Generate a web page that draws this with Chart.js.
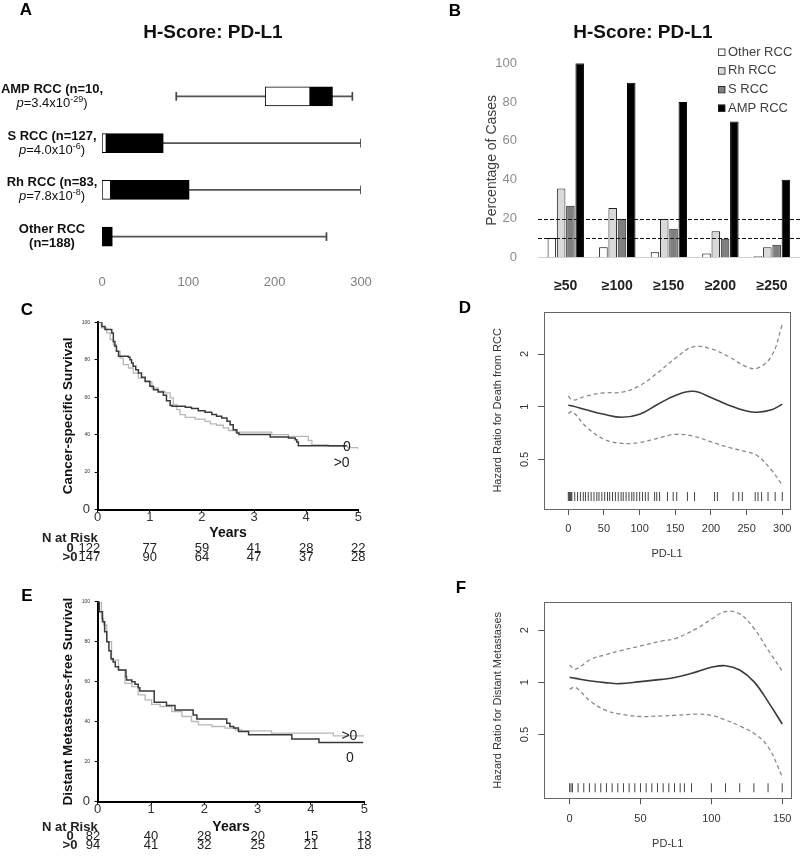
<!DOCTYPE html>
<html>
<head>
<meta charset="utf-8">
<title>H-Score: PD-L1</title>
<script src="https://cdn.jsdelivr.net/npm/chart.js@4.4.1/dist/chart.umd.min.js"></script>
<style>
  body { margin: 0; background: #fff; }
  #figure { position: relative; width: 800px; height: 858px; }
  #figure canvas { position: absolute; }
</style>
</head>
<body>
<div id="figure">
  <canvas id="chartA" width="400" height="290" style="left:0;top:0"></canvas>
  <canvas id="chartB" width="400" height="290" style="left:400px;top:0"></canvas>
  <canvas id="chartC" width="400" height="280" style="left:0;top:290px"></canvas>
  <canvas id="chartD" width="400" height="280" style="left:400px;top:290px"></canvas>
  <canvas id="chartE" width="400" height="288" style="left:0;top:570px"></canvas>
  <canvas id="chartF" width="400" height="288" style="left:400px;top:570px"></canvas>
</div>
<script>
'use strict';

// ── Panel A: H-score box plots per subtype ───────────────────────────────────
var boxGroups    = ['AMP RCC', 'S RCC', 'Rh RCC', 'Other RCC'];
var boxN         = [10, 127, 83, 188];
var boxPMantissa = ['3.4', '4.0', '7.8', null];
var boxPExponent = ['-29', '-6', '-8', null];
var boxLow       = [86, 0, 0, 0];
var boxQ1        = [189, 0, 0, 0];
var boxMedian    = [241, 5, 10, 0];
var boxQ3        = [267, 71, 101, 12];
var boxHigh      = [290, 300, 300, 260];
var scoreTicks   = [0, 100, 200, 300];

// ── Panel B: percentage of cases above each cutoff ───────────────────────────
var cutoffLabels = ['≥50', '≥100', '≥150', '≥200', '≥250'];
var pctOther     = [10, 5.2, 2.6, 2.0, 0.5];
var pctRh        = [35.5, 25.4, 19.7, 13.4, 5.2];
var pctS         = [26.6, 19.7, 14.7, 9.6, 6.5];
var pctAmp       = [100, 90, 80, 70, 40];
var pctTicks     = [0, 20, 40, 60, 80, 100];
var pctRefLevels = [10, 20];

// ── Panels C / E: Kaplan-Meier curves ────────────────────────────────────────
var yearTicks = [0, 1, 2, 3, 4, 5];
var survTicks = [0, 20, 40, 60, 80, 100];
var riskYears = [0, 1, 2, 3, 4, 5];

var cssTime0 = [0, 0.08, 0.14, 0.27, 0.30, 0.33, 0.36, 0.40, 0.59, 0.62, 0.65, 0.68, 0.73, 0.78, 0.84, 0.91, 1.00, 1.07, 1.16, 1.26, 1.32, 1.39, 1.43, 1.68, 1.80, 1.93, 2.06, 2.19, 2.28, 2.38, 2.48, 2.54, 2.60, 2.67, 2.71, 3.31, 3.66, 3.79, 3.82, 3.85, 4.78];
var cssSurv0 = [100, 97.8, 96.1, 94.3, 89.8, 87.2, 84.5, 81.8, 81.3, 80.0, 78.3, 76.5, 74.7, 72.9, 70.6, 68.5, 65.8, 64.0, 62.8, 61.0, 58.1, 55.6, 55.1, 54.6, 53.9, 52.8, 51.9, 50.7, 49.8, 48.9, 47.1, 45.3, 42.6, 40.9, 40.0, 38.7, 38.2, 37.3, 36.0, 34.1, 34.1];
var cssTime1 = [0, 0.07, 0.17, 0.24, 0.30, 0.36, 0.43, 0.49, 0.59, 0.68, 0.78, 0.91, 1.04, 1.16, 1.29, 1.39, 1.45, 1.52, 1.58, 1.68, 1.87, 2.06, 2.16, 2.28, 2.41, 2.51, 2.64, 3.34, 3.66, 4.04, 4.11, 4.42, 4.80, 5.00];
var cssSurv1 = [100, 97.0, 94.3, 90.7, 88.0, 84.5, 80.9, 77.4, 75.6, 72.9, 70.2, 68.1, 64.9, 63.2, 62.3, 59.6, 56.0, 53.4, 50.7, 49.2, 48.3, 47.1, 45.7, 45.0, 43.6, 42.2, 41.3, 40.0, 39.1, 36.9, 34.5, 33.7, 33.0, 31.9];
var riskCss0 = [122, 77, 59, 41, 28, 22];
var riskCss1 = [147, 90, 64, 47, 37, 28];

var dmfsTime0 = [0, 0.03, 0.09, 0.13, 0.17, 0.21, 0.25, 0.29, 0.33, 0.39, 0.53, 0.54, 0.64, 0.70, 0.76, 0.79, 1.06, 1.29, 1.45, 1.79, 1.86, 2.42, 2.48, 2.55, 2.64, 2.83, 3.64, 4.15, 4.98];
var dmfsSurv0 = [100, 95, 90, 85, 80, 75.5, 71.5, 69.9, 67.5, 65.8, 62.5, 60.8, 60.0, 58.7, 57.0, 55.4, 49.7, 48.1, 45.9, 43.4, 41.4, 39.2, 37.6, 36.8, 35.1, 33.5, 31.3, 29.6, 29.6];
var dmfsTime1 = [0, 0.07, 0.11, 0.17, 0.26, 0.39, 0.51, 0.64, 0.76, 0.89, 1.01, 1.17, 1.39, 1.58, 1.76, 1.89, 2.14, 2.39, 2.58, 2.70, 3.26, 4.42, 5.00];
var dmfsSurv1 = [100, 91.6, 88.3, 80.0, 70.8, 65.8, 59.2, 57.5, 53.4, 50.9, 48.7, 47.6, 45.1, 42.6, 40.1, 38.4, 37.6, 36.8, 35.9, 35.4, 34.3, 32.9, 32.9];
var riskDmfs0 = [82, 40, 28, 20, 15, 13];
var riskDmfs1 = [94, 41, 32, 25, 21, 18];

// ── Panels D / F: spline hazard ratios with 95% bands ────────────────────────
var hrTicks = [0.5, 1, 2];

var deathTicks = [0, 50, 100, 150, 200, 250, 300];
var deathPdl1  = [0, 6, 25, 50, 75, 100, 125, 150, 175, 200, 225, 250, 265, 285, 300];
var deathHr    = [1.02, 1.01, 0.96, 0.905, 0.87, 0.905, 1.03, 1.16, 1.225, 1.13, 1.02, 0.945, 0.93, 0.96, 1.035];
var deathUpper = [1.15, 1.09, 1.15, 1.20, 1.21, 1.32, 1.56, 1.89, 2.2, 2.14, 1.93, 1.69, 1.66, 1.95, 2.95];
var deathLower = [0.916, 0.936, 0.769, 0.653, 0.617, 0.625, 0.66, 0.695, 0.68, 0.63, 0.586, 0.553, 0.525, 0.434, 0.357];
var deathRug   = [0, 1, 2, 3, 4, 5, 9, 13, 17, 21, 24, 28, 32, 36, 40, 43, 47, 51, 55, 58, 62, 66, 70, 74, 77, 81, 85, 89, 92, 96, 100, 104, 108, 112, 121, 124, 128, 139, 147, 152, 167, 177, 205, 209, 231, 239, 244, 262, 266, 271, 280, 290, 300];

var metTicks = [0, 50, 100, 150];
var metPdl1  = [0, 4, 15, 25, 35, 50, 65, 75, 90, 100, 110, 120, 130, 140, 150];
var metHr    = [1.069, 1.054, 1.018, 0.996, 0.982, 1.009, 1.04, 1.069, 1.152, 1.22, 1.247, 1.178, 1.009, 0.774, 0.575];
var metUpper = [1.259, 1.189, 1.357, 1.438, 1.516, 1.62, 1.73, 1.794, 2.05, 2.31, 2.558, 2.48, 2.05, 1.536, 1.162];
var metLower = [0.911, 0.936, 0.774, 0.693, 0.657, 0.635, 0.64, 0.645, 0.655, 0.645, 0.606, 0.56, 0.508, 0.425, 0.286];
var metRug   = [0, 1, 2, 6, 10, 14, 18, 22, 26, 30, 34, 38, 42, 46, 50, 54, 58, 62, 66, 70, 74, 78, 81, 86, 100, 110, 120, 130, 140, 150];

// ── Defaults ─────────────────────────────────────────────────────────────────
var FONT = "'Liberation Sans', Arial, sans-serif";
Chart.defaults.font.family = FONT;
Chart.defaults.color = '#333';
Chart.defaults.animation = false;
Chart.defaults.responsive = false;
Chart.defaults.plugins.legend.display = false;
Chart.defaults.plugins.tooltip.enabled = false;

function toPoints(xs, ys) {
    return xs.map(function (x, i) { return { x: x, y: ys[i] }; });
}
function fixedTicks(values) {
    return function (scale) { scale.ticks = values.map(function (v) { return { value: v }; }); };
}

// ── Plugins ──────────────────────────────────────────────────────────────────
// free text at canvas coordinates (panel letters, titles)
var textPlugin = {
    id: 'panelText',
    afterDraw: function (chart, args, opts) {
        var ctx = chart.ctx;
        (opts.items || []).forEach(function (it) {
            ctx.save();
            ctx.font = it.font;
            ctx.fillStyle = it.color || '#000';
            ctx.textAlign = it.align || 'center';
            ctx.textBaseline = 'middle';
            ctx.translate(it.x, it.y);
            if (it.rotate) { ctx.rotate(it.rotate * Math.PI / 180); }
            ctx.fillText(it.text, 0, 0);
            ctx.restore();
        });
    }
};

function drawRich(ctx, parts, cx, cy) {
    var total = 0;
    parts.forEach(function (p) { ctx.font = p.font; p.w = ctx.measureText(p.text).width; total += p.w; });
    var x = cx - total / 2;
    parts.forEach(function (p) {
        ctx.font = p.font;
        ctx.fillText(p.text, x, cy + (p.dy || 0));
        x += p.w;
    });
}

// group labels of panel A (bold name, italic p with superscript exponent)
var boxLabelPlugin = {
    id: 'boxLabels',
    afterDraw: function (chart, args, opts) {
        var ctx = chart.ctx, yScale = chart.scales.y;
        ctx.save();
        ctx.fillStyle = '#111';
        ctx.textAlign = 'left';
        ctx.textBaseline = 'middle';
        boxGroups.forEach(function (name, i) {
            var cy = yScale.getPixelForValue(i);
            var line1, line2;
            if (boxPMantissa[i]) {
                line1 = [{ text: name + ' (n=' + boxN[i] + ',', font: 'bold 13px ' + FONT }];
                line2 = [
                    { text: 'p', font: 'italic 13px ' + FONT },
                    { text: '=' + boxPMantissa[i] + 'x10', font: '13px ' + FONT },
                    { text: boxPExponent[i], font: '9px ' + FONT, dy: -4 },
                    { text: ')', font: '13px ' + FONT }
                ];
            } else {
                line1 = [{ text: name, font: 'bold 13px ' + FONT }];
                line2 = [{ text: '(n=' + boxN[i] + ')', font: 'bold 13px ' + FONT }];
            }
            drawRich(ctx, line1, opts.x, cy - 7);
            drawRich(ctx, line2, opts.x, cy + 7);
        });
        ctx.restore();
    }
};

// horizontal reference lines of panel B
var refLinePlugin = {
    id: 'refLines',
    afterDatasetsDraw: function (chart, args, opts) {
        var ctx = chart.ctx, y = chart.scales.y, area = chart.chartArea;
        ctx.save();
        ctx.strokeStyle = '#d0d0d0';
        ctx.lineWidth = 1;
        ctx.beginPath();
        ctx.moveTo(area.left - 2, Math.round(y.getPixelForValue(0)) + 0.5);
        ctx.lineTo(chart.width, Math.round(y.getPixelForValue(0)) + 0.5);
        ctx.stroke();
        ctx.strokeStyle = '#111';
        ctx.lineWidth = 1.2;
        ctx.setLineDash([4, 2]);
        opts.levels.forEach(function (lv) {
            var py = Math.round(y.getPixelForValue(lv)) + 0.5;
            ctx.beginPath();
            ctx.moveTo(area.left - 2, py);
            ctx.lineTo(chart.width, py);
            ctx.stroke();
        });
        ctx.restore();
    }
};

// legend of panel B, drawn inside the plot
var boxLegendPlugin = {
    id: 'boxLegend',
    afterDraw: function (chart, args, opts) {
        var ctx = chart.ctx;
        ctx.save();
        ctx.textAlign = 'left';
        ctx.textBaseline = 'middle';
        ctx.font = '13px ' + FONT;
        chart.data.datasets.forEach(function (ds, i) {
            var y = opts.top + i * opts.step;
            ctx.fillStyle = ds.backgroundColor;
            ctx.fillRect(opts.x, y - 3.5, 7, 7);
            ctx.strokeStyle = '#222';
            ctx.lineWidth = 0.8;
            ctx.strokeRect(opts.x + 0.5, y - 3, 6.5, 6.5);
            ctx.fillStyle = '#404040';
            ctx.fillText(ds.label, opts.x + 10, y);
        });
        ctx.restore();
    }
};

// text anchored in data units (curve end labels)
var curveLabelPlugin = {
    id: 'curveLabels',
    afterDatasetsDraw: function (chart, args, opts) {
        var ctx = chart.ctx, xs = chart.scales.x, ys = chart.scales.y;
        ctx.save();
        ctx.font = '14px ' + FONT;
        ctx.fillStyle = '#222';
        ctx.textAlign = 'center';
        ctx.textBaseline = 'middle';
        opts.items.forEach(function (it) {
            ctx.fillText(it.text, xs.getPixelForValue(it.x), ys.getPixelForValue(it.y));
        });
        ctx.restore();
    }
};

// number-at-risk table under the KM plots
var riskTablePlugin = {
    id: 'riskTable',
    afterDraw: function (chart, args, opts) {
        var ctx = chart.ctx, xs = chart.scales.x;
        ctx.save();
        ctx.fillStyle = '#222';
        ctx.textBaseline = 'middle';
        ctx.font = 'bold 13px ' + FONT;
        ctx.textAlign = 'left';
        ctx.fillText('N at Risk', opts.headX, opts.headY);
        opts.rows.forEach(function (row, r) {
            var y = opts.rowY[r];
            ctx.font = 'bold 13px ' + FONT;
            ctx.textAlign = 'center';
            ctx.fillText(row.label, opts.labelX, y);
            ctx.font = '13px ' + FONT;
            row.values.forEach(function (v, i) {
                var px = xs.getPixelForValue(riskYears[i]);
                if (i === 0) {
                    ctx.textAlign = 'right';
                    ctx.fillText(String(v), px + 2.5, y);
                } else {
                    ctx.textAlign = 'center';
                    ctx.fillText(String(v), px, y);
                }
            });
        });
        ctx.restore();
    }
};

// box around R-style plots
var framePlugin = {
    id: 'frame',
    afterDatasetsDraw: function (chart) {
        var ctx = chart.ctx, a = chart.chartArea;
        ctx.save();
        ctx.strokeStyle = '#666';
        ctx.lineWidth = 1;
        ctx.strokeRect(Math.round(a.left) + 0.5, Math.round(a.top) + 0.5,
            Math.round(a.right - a.left), Math.round(a.bottom - a.top));
        ctx.restore();
    }
};

// ── Panel A ──────────────────────────────────────────────────────────────────
new Chart(document.getElementById('chartA'), {
    type: 'bar',
    data: {
        labels: boxGroups,
        datasets: [
            {
                label: 'Q1 to median',
                data: boxQ1.map(function (v, i) { return [v, boxMedian[i]]; }),
                backgroundColor: '#ffffff', borderColor: '#000', borderWidth: 1,
                borderSkipped: false, barThickness: 19, order: 0
            },
            {
                label: 'median to Q3',
                data: boxMedian.map(function (v, i) { return [v, boxQ3[i]]; }),
                backgroundColor: '#000000', borderColor: '#000', borderWidth: 1,
                borderSkipped: false, barThickness: 19, order: 1
            },
            {
                label: 'low cap',
                data: boxLow.map(function (v) { return [v - 0.6, v + 0.6]; }),
                backgroundColor: '#444', barThickness: 8, order: 2
            },
            {
                label: 'high cap',
                data: boxHigh.map(function (v) { return [v - 0.6, v + 0.6]; }),
                backgroundColor: '#444', barThickness: 8, order: 2
            },
            {
                label: 'whisker',
                data: boxLow.map(function (v, i) { return [v, boxHigh[i]]; }),
                backgroundColor: '#555', barThickness: 1, order: 3
            }
        ]
    },
    options: {
        indexAxis: 'y',
        layout: { padding: { left: 102, right: 39, top: 73, bottom: 0 } },
        datasets: { bar: { grouped: false } },
        scales: {
            x: {
                min: 0, max: 300,
                afterBuildTicks: fixedTicks(scoreTicks),
                afterFit: function (s) { s.height = 30; },
                grid: { display: false },
                border: { display: false },
                ticks: { color: '#808080', font: { size: 13 }, padding: 6.2 }
            },
            y: { display: false }
        },
        plugins: {
            boxLabels: { x: 52 },
            panelText: { items: [
                { text: 'A', x: 26, y: 10, font: 'bold 17px ' + FONT },
                { text: 'H-Score: PD-L1', x: 213, y: 33, font: 'bold 19px ' + FONT, color: '#111' }
            ] }
        }
    },
    plugins: [boxLabelPlugin, textPlugin]
});

// ── Panel B ──────────────────────────────────────────────────────────────────
new Chart(document.getElementById('chartB'), {
    type: 'bar',
    data: {
        labels: cutoffLabels,
        datasets: [
            { label: 'Other RCC', data: pctOther, backgroundColor: '#ffffff', borderColor: '#000', borderWidth: 1 },
            { label: 'Rh RCC',    data: pctRh,    backgroundColor: '#d9d9d9', borderColor: '#222', borderWidth: 1 },
            { label: 'S RCC',     data: pctS,     backgroundColor: '#7f7f7f', borderColor: '#222', borderWidth: 1 },
            { label: 'AMP RCC',   data: pctAmp,   backgroundColor: '#000000', borderColor: '#000', borderWidth: 1 }
        ]
    },
    options: {
        layout: { padding: { left: 83.6, right: 2, top: 63.3, bottom: 0 } },
        datasets: { bar: { categoryPercentage: 0.72, barPercentage: 0.92 } },
        scales: {
            x: {
                afterFit: function (s) { s.height = 32.7; },
                grid: { display: false },
                border: { display: false },
                ticks: { color: '#222', font: { size: 14, weight: 'bold' }, padding: 12.3 }
            },
            y: {
                min: 0, max: 100,
                afterBuildTicks: fixedTicks(pctTicks),
                afterFit: function (s) { s.width = 56.4; },
                grid: { display: false },
                border: { display: false },
                ticks: { color: '#8c8c8c', font: { size: 13 }, padding: 15 },
                title: { display: true, text: 'Percentage of Cases', color: '#404040',
                         font: { size: 14 }, padding: { top: 0, bottom: 0 } }
            }
        },
        plugins: {
            refLines: { levels: pctRefLevels },
            boxLegend: { x: 318, top: 52, step: 18.7 },
            panelText: { items: [
                { text: 'B', x: 55, y: 11, font: 'bold 17px ' + FONT },
                { text: 'H-Score: PD-L1', x: 243, y: 33, font: 'bold 19px ' + FONT, color: '#111' }
            ] }
        }
    },
    plugins: [refLinePlugin, boxLegendPlugin, textPlugin]
});

// ── Panels C / E ─────────────────────────────────────────────────────────────
function kmOptions(o) {
    return {
        layout: { padding: o.padding },
        scales: {
            x: {
                type: 'linear', min: 0, max: 5,
                afterBuildTicks: fixedTicks(yearTicks),
                afterFit: function (s) { s.height = o.xHeight; },
                grid: { display: true, drawOnChartArea: false, drawTicks: true, tickLength: 3, color: '#000' },
                border: { display: true, color: '#000', width: 2 },
                ticks: { color: '#333', font: { size: 13 }, padding: -3.3 },
                title: { display: true, text: 'Years', color: '#111',
                         font: { size: 14, weight: 'bold' }, padding: { top: 0, bottom: o.titlePad } }
            },
            y: {
                min: 0, max: 100,
                afterBuildTicks: fixedTicks(survTicks),
                afterFit: function (s) { s.width = o.yWidth; },
                grid: { display: true, drawOnChartArea: false, drawTicks: true, tickLength: 3, color: '#000' },
                border: { display: true, color: '#000', width: 2 },
                ticks: {
                    color: '#333', padding: 4.7,
                    font: function (c) { return { size: (c.tick && c.tick.value === 0) ? 13 : 5 }; }
                },
                title: { display: true, text: o.yTitle, color: '#111',
                         font: { size: 13.5, weight: 'bold' }, padding: { top: 4.2, bottom: 0 } }
            }
        },
        plugins: {
            curveLabels: { items: o.curveLabels },
            riskTable: o.risk,
            panelText: { items: [{ text: o.letter, x: 27, y: o.letterY, font: 'bold 17px ' + FONT }] }
        }
    };
}

new Chart(document.getElementById('chartC'), {
    type: 'line',
    data: { datasets: [
        { label: '0',  data: toPoints(cssTime0, cssSurv0), borderColor: '#3a3a3a', borderWidth: 1.5, stepped: true, pointRadius: 0 },
        { label: '>0', data: toPoints(cssTime1, cssSurv1), borderColor: '#b8b8b8', borderWidth: 1.3, stepped: true, pointRadius: 0 }
    ] },
    options: kmOptions({
        padding: { left: 56, right: 41.7, top: 32.3, bottom: 25.5 },
        xHeight: 35, yWidth: 41.7, titlePad: 3.4,
        yTitle: 'Cancer-specific Survival',
        letter: 'C', letterY: 20,
        curveLabels: [{ text: '0', x: 4.78, y: 33.5 }, { text: '>0', x: 4.68, y: 24.7 }],
        risk: { headX: 42, headY: 248.3, labelX: 70, rowY: [258, 267.5],
                rows: [{ label: '0', values: riskCss0 }, { label: '>0', values: riskCss1 }] }
    }),
    plugins: [curveLabelPlugin, riskTablePlugin, textPlugin]
});

new Chart(document.getElementById('chartE'), {
    type: 'line',
    data: { datasets: [
        { label: '0',  data: toPoints(dmfsTime0, dmfsSurv0), borderColor: '#3a3a3a', borderWidth: 1.5, stepped: true, pointRadius: 0 },
        { label: '>0', data: toPoints(dmfsTime1, dmfsSurv1), borderColor: '#b8b8b8', borderWidth: 1.3, stepped: true, pointRadius: 0 }
    ] },
    options: kmOptions({
        padding: { left: 56, right: 35.7, top: 31.7, bottom: 21.3 },
        xHeight: 35, yWidth: 41.7, titlePad: 1.6,
        yTitle: 'Distant Metastases-free Survival',
        letter: 'E', letterY: 26,
        curveLabels: [{ text: '>0', x: 4.72, y: 33.0 }, { text: '0', x: 4.73, y: 21.7 }],
        risk: { headX: 42, headY: 257.3, labelX: 70, rowY: [266.7, 275.7],
                rows: [{ label: '0', values: riskDmfs0 }, { label: '>0', values: riskDmfs1 }] }
    }),
    plugins: [curveLabelPlugin, riskTablePlugin, textPlugin]
});

// ── Panels D / F ─────────────────────────────────────────────────────────────
function hrDatasets(xs, hr, upper, lower, rug, rugLevel) {
    return [
        { label: 'HR', data: toPoints(xs, hr), borderColor: '#3a3a3a', borderWidth: 1.6, tension: 0.4, pointRadius: 0 },
        { label: 'upper 95%', data: toPoints(xs, upper), borderColor: '#8a8a8a', borderWidth: 1.3, borderDash: [4, 3], tension: 0.4, pointRadius: 0 },
        { label: 'lower 95%', data: toPoints(xs, lower), borderColor: '#8a8a8a', borderWidth: 1.3, borderDash: [4, 3], tension: 0.4, pointRadius: 0 },
        {
            type: 'scatter', label: 'observations',
            data: rug.map(function (v) { return { x: v, y: rugLevel }; }),
            pointStyle: 'line', pointRotation: 90, pointRadius: 4.5,
            pointBorderColor: '#444', pointBorderWidth: 1, showLine: false
        }
    ];
}

function hrOptions(o) {
    return {
        layout: { padding: o.padding },
        scales: {
            x: {
                type: 'linear', min: o.xMin, max: o.xMax,
                afterBuildTicks: fixedTicks(o.xTicks),
                afterFit: function (s) { s.height = o.xHeight; },
                grid: { display: true, drawOnChartArea: false, drawTicks: true, tickLength: 6, color: '#555' },
                border: { display: false },
                ticks: { color: '#333', font: { size: 11 }, padding: o.xPad },
                title: { display: true, text: 'PD-L1', color: '#333', font: { size: 11 }, padding: { top: 0, bottom: 0 } }
            },
            y: {
                type: 'logarithmic', min: o.yMin, max: o.yMax,
                afterBuildTicks: fixedTicks(hrTicks),
                afterFit: function (s) { s.width = o.yWidth; },
                grid: { display: true, drawOnChartArea: false, drawTicks: true, tickLength: 6, color: '#555' },
                border: { display: false },
                ticks: {
                    color: '#333', font: { size: 11 }, padding: 5.3,
                    minRotation: 90, maxRotation: 90, crossAlign: 'center',
                    callback: function (v) { return String(v); }
                },
                title: { display: true, text: o.yTitle, color: '#333', font: { size: 11 }, padding: { top: 0, bottom: 0 } }
            }
        },
        plugins: {
            panelText: { items: [{ text: o.letter, x: o.letterX, y: o.letterY, font: 'bold 17px ' + FONT }] }
        }
    };
}

new Chart(document.getElementById('chartD'), {
    type: 'line',
    data: { datasets: hrDatasets(deathPdl1, deathHr, deathUpper, deathLower, deathRug, 0.307) },
    options: hrOptions({
        padding: { left: 91.7, right: 10, top: 21.7, bottom: 9.1 },
        xMin: -34.07, xMax: 310.8, yMin: 0.2605, yMax: 3.489,
        xTicks: deathTicks, xHeight: 51.9, xPad: 7.7, yWidth: 52.3,
        yTitle: 'Hazard Ratio for Death from RCC',
        letter: 'D', letterX: 65, letterY: 18
    }),
    plugins: [framePlugin, textPlugin]
});

new Chart(document.getElementById('chartF'), {
    type: 'line',
    data: { datasets: hrDatasets(metPdl1, metHr, metUpper, metLower, metRug, 0.2465) },
    options: hrOptions({
        padding: { left: 91.7, right: 5, top: 32.3, bottom: 7.1 },
        xMin: -17.85, xMax: 156.25, yMin: 0.2143, yMax: 2.893,
        xTicks: metTicks, xHeight: 52.6, xPad: 8.4, yWidth: 52.6,
        yTitle: 'Hazard Ratio for Distant Metastases',
        letter: 'F', letterX: 61, letterY: 18
    }),
    plugins: [framePlugin, textPlugin]
});
</script>
</body>
</html>
